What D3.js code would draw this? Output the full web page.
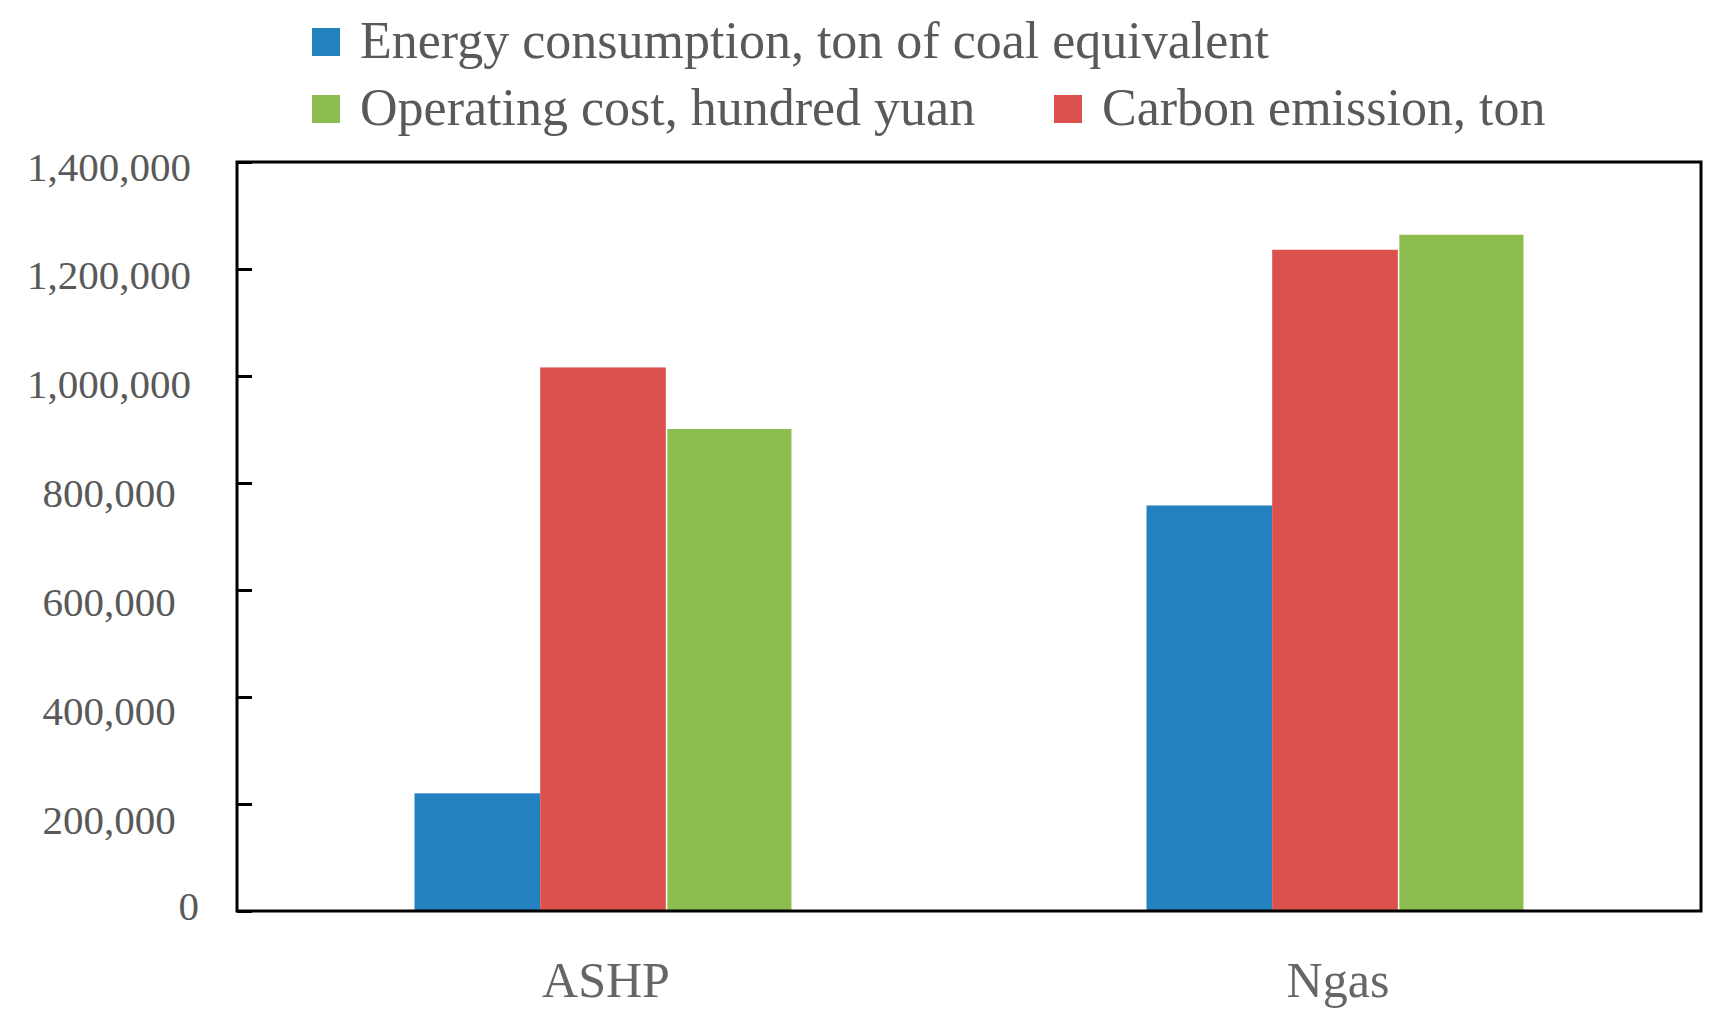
<!DOCTYPE html>
<html>
<head>
<meta charset="utf-8">
<script src="https://cdn.jsdelivr.net/npm/d3@7"></script>
<style>
  html, body { margin: 0; padding: 0; background: #ffffff; }
  svg { display: block; }
  text { font-family: "Liberation Serif", "Times New Roman", serif; }
</style>
</head>
<body>
<svg id="chart" width="1732" height="1025"></svg>
<script>
// ---- data ----
const categories = ["ASHP", "Ngas"];
const seriesKeys = ["energy", "carbon", "cost"];
const seriesLabels = {
  energy: "Energy consumption, ton of coal equivalent",
  carbon: "Carbon emission, ton",
  cost: "Operating cost, hundred yuan"
};
const energyValues = [220000, 758000];
const carbonValues = [1016000, 1236000];
const costValues = [901000, 1264000];
const yTickValues = [0, 200000, 400000, 600000, 800000, 1000000, 1200000, 1400000];

const seriesValues = { energy: energyValues, carbon: carbonValues, cost: costValues };
const colors = { energy: "#2381C0", carbon: "#DC504D", cost: "#8DBD4F" };

// ---- layout ----
const plot = { left: 237, right: 1701, top: 162, bottom: 911 };
const svg = d3.select("#chart");

const y = d3.scaleLinear().domain([0, 1400000]).range([plot.bottom, plot.top]);
// tick labels in the reference sit on a slightly wider spacing than the ticks
const yLabel = d3.scaleLinear().domain([200000, 1400000]).range([819, 166]);
const x0 = d3.scaleBand().domain(categories).range([plot.left, plot.right]).padding(0);
const step = x0.bandwidth();
const groupOffset = step * 0.2425;
const groupWidth = step * 0.515;
const x1 = d3.scaleBand().domain(seriesKeys).range([0, groupWidth]).padding(0);

// ---- bars ----
const rows = [];
categories.forEach((c, i) => {
  seriesKeys.forEach(k => rows.push({ cat: c, key: k, value: seriesValues[k][i] }));
});

svg.append("g").selectAll("rect").data(rows).join("rect")
  .attr("x", d => x0(d.cat) + groupOffset + x1(d.key) + (d.key === "cost" ? 1.5 : 0))
  .attr("width", d => x1.bandwidth() - (d.key === "cost" ? 1.5 : 0))
  .attr("y", d => y(d.value))
  .attr("height", d => y(0) - y(d.value))
  .attr("fill", d => colors[d.key]);

// ---- y axis (ticks inward) ----
const yAxis = d3.axisLeft(y)
  .tickValues(yTickValues)
  .tickSize(-15)
  .tickFormat(d3.format(","));

const gy = svg.append("g")
  .attr("transform", `translate(${plot.left},0)`)
  .call(yAxis);
gy.select(".domain").remove();
gy.selectAll(".tick line").attr("stroke", "#000").attr("stroke-width", 3);
gy.selectAll(".tick text")
  .attr("fill", "#595959")
  .attr("font-size", 41)
  .attr("font-family", "Liberation Serif, Times New Roman, serif")
  .attr("text-anchor", d => d === 0 ? "end" : "middle")
  .attr("x", d => d === 0 ? -38 : -128)
  .attr("dy", null)
  .attr("y", d => d === 0 ? 8 : (yLabel(d) - y(d) + 14));

// ---- frame ----
svg.append("rect")
  .attr("x", plot.left).attr("y", plot.top)
  .attr("width", plot.right - plot.left)
  .attr("height", plot.bottom - plot.top)
  .attr("fill", "none").attr("stroke", "#000").attr("stroke-width", 3);

// ---- x category labels ----
svg.append("g").selectAll("text").data(categories).join("text")
  .attr("x", d => x0(d) + step / 2 + 3)
  .attr("y", 997)
  .attr("text-anchor", "middle")
  .attr("font-size", 50)
  .attr("fill", "#666666")
  .text(d => d);

// ---- legend ----
const legendItems = [
  { key: "energy", x: 312, y: 28 },
  { key: "cost", x: 312, y: 95 },
  { key: "carbon", x: 1054, y: 95 }
];
const lg = svg.append("g").selectAll("g").data(legendItems).join("g")
  .attr("transform", d => `translate(${d.x},${d.y})`);
lg.append("rect")
  .attr("width", 28).attr("height", 28)
  .attr("fill", d => colors[d.key]);
lg.append("text")
  .attr("x", 48)
  .attr("y", 30)
  .attr("font-size", 52)
  .attr("fill", "#595959")
  .text(d => seriesLabels[d.key]);
</script>
</body>
</html>
